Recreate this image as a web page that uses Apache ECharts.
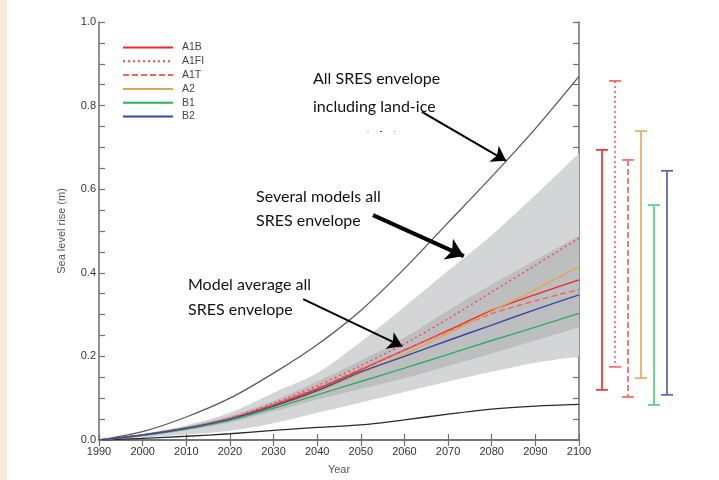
<!DOCTYPE html>
<html>
<head>
<meta charset="utf-8">
<title>Sea level rise 1990-2100</title>
<script src="https://cdn.jsdelivr.net/npm/echarts@6/dist/echarts.min.js"></script>
<style>
html, body { margin: 0; padding: 0; background: #fff; }
#chart { width: 719px; height: 480px; }
</style>
</head>
<body>
<div id="chart"></div>
<script>
// values, one per decade
var years = [1990, 2000, 2010, 2020, 2030, 2040, 2050, 2060, 2070, 2080, 2090, 2100];

// all SRES envelope including land-ice uncertainty
var landIceHigh = [0, 0.02, 0.055, 0.10, 0.16, 0.228, 0.31, 0.41, 0.52, 0.63, 0.745, 0.87];
var landIceLow = [0, 0.004, 0.009, 0.015, 0.023, 0.03, 0.036, 0.048, 0.062, 0.074, 0.081, 0.085];

// several models all SRES envelope
var modelsLow = [0, 0.006, 0.013, 0.022, 0.04, 0.065, 0.09, 0.115, 0.14, 0.163, 0.185, 0.2];
var modelsHigh = [0, 0.015, 0.035, 0.065, 0.113, 0.16, 0.235, 0.319, 0.405, 0.49, 0.586, 0.686];

// model average all SRES envelope
var averageLow = [0, 0.009, 0.023, 0.042, 0.068, 0.097, 0.122, 0.148, 0.177, 0.207, 0.238, 0.27];
var averageHigh = [0, 0.014, 0.032, 0.058, 0.094, 0.14, 0.19, 0.245, 0.31, 0.372, 0.43, 0.488];

// scenarios
var scenarioNames = ['A1B', 'A1FI', 'A1T', 'A2', 'B1', 'B2'];
var a1b = [0, 0.012, 0.028, 0.051, 0.084, 0.122, 0.168, 0.215, 0.262, 0.31, 0.348, 0.383];
var a1fi = [0, 0.012, 0.029, 0.053, 0.088, 0.13, 0.178, 0.23, 0.29, 0.354, 0.418, 0.483];
var a1t = [0, 0.012, 0.029, 0.052, 0.086, 0.125, 0.17, 0.215, 0.26, 0.302, 0.333, 0.36];
var a2 = [0, 0.011, 0.026, 0.048, 0.079, 0.116, 0.16, 0.205, 0.255, 0.308, 0.36, 0.415];
var b1 = [0, 0.011, 0.026, 0.047, 0.076, 0.108, 0.14, 0.172, 0.205, 0.238, 0.27, 0.303];
var b2 = [0, 0.012, 0.028, 0.05, 0.081, 0.118, 0.163, 0.2, 0.238, 0.275, 0.312, 0.347];

// 2100 ranges shown as bars at the right
var rangeLow = [0.12, 0.175, 0.103, 0.148, 0.084, 0.108];
var rangeHigh = [0.694, 0.859, 0.67, 0.739, 0.562, 0.644];

var scenarioColors = ['#ec2b2b', '#f04a4a', '#f26262', '#e2a650', '#2fad62', '#3a48a0'];
var rangeColors = ['#f03c3c', '#f36e6e', '#f36e6e', '#e3b264', '#5fcf90', '#5d68b2'];
var scenarioDash = ['solid', [2, 3], [6, 3], 'solid', 'solid', 'solid'];

var bands = [
    {low: modelsLow, high: modelsHigh, color: '#d4d5d7'},
    {low: averageLow, high: averageHigh, color: '#bdbec0'}
];

function pairs(values) {
    var out = [];
    for (var i = 0; i < years.length; i++) {
        out.push([years[i], values[i]]);
    }
    return out;
}

// catmull-rom through the points, written as cubic bezier commands
function curveTo(pts) {
    var d = '';
    for (var i = 0; i < pts.length - 1; i++) {
        var p0 = pts[i - 1] || pts[i];
        var p1 = pts[i];
        var p2 = pts[i + 1];
        var p3 = pts[i + 2] || p2;
        var c1x = p1[0] + (p2[0] - p0[0]) / 6;
        var c1y = p1[1] + (p2[1] - p0[1]) / 6;
        var c2x = p2[0] - (p3[0] - p1[0]) / 6;
        var c2y = p2[1] - (p3[1] - p1[1]) / 6;
        d += ' C' + c1x + ' ' + c1y + ' ' + c2x + ' ' + c2y + ' ' + p2[0] + ' ' + p2[1];
    }
    return d;
}

function renderBand(params, api) {
    var band = bands[params.dataIndex];
    var top = [];
    var bottom = [];
    for (var i = 0; i < years.length; i++) {
        top.push(api.coord([years[i], band.high[i]]));
    }
    for (var j = years.length - 1; j >= 0; j--) {
        bottom.push(api.coord([years[j], band.low[j]]));
    }
    var d = 'M' + top[0][0] + ' ' + top[0][1] + curveTo(top) +
        ' L' + bottom[0][0] + ' ' + bottom[0][1] + curveTo(bottom) + ' Z';
    return {
        type: 'path',
        shape: {pathData: d},
        style: {fill: band.color}
    };
}

function renderRange(params, api) {
    var idx = api.value(0);
    var top = api.coord([idx, api.value(2)]);
    var bottom = api.coord([idx, api.value(1)]);
    var color = rangeColors[idx];
    var dash = scenarioDash[idx] === 'solid' ? null : scenarioDash[idx];
    return {
        type: 'group',
        children: [{
            type: 'line',
            shape: {x1: top[0], y1: top[1], x2: bottom[0], y2: bottom[1]},
            style: {stroke: color, lineWidth: 1.8, lineDash: dash}
        }, {
            type: 'line',
            shape: {x1: top[0] - 6, y1: top[1], x2: top[0] + 6, y2: top[1]},
            style: {stroke: color, lineWidth: 1.8}
        }, {
            type: 'line',
            shape: {x1: bottom[0] - 6, y1: bottom[1], x2: bottom[0] + 6, y2: bottom[1]},
            style: {stroke: color, lineWidth: 1.8}
        }]
    };
}

var axisColor = '#6f6f6f';
var labelFont = 'Liberation Sans';
var noteFont = 'Lato';

var series = [];
series.push({
    type: 'custom',
    data: [[0], [1]],
    renderItem: renderBand,
    silent: true,
    z: 1
});

series.push({
    name: 'land-ice high',
    type: 'line',
    data: pairs(landIceHigh),
    symbol: 'none',
    smooth: 0.3,
    z: 3,
    lineStyle: {color: '#5a5a5a', width: 1.3},
    markLine: {
        silent: true,
        symbol: ['none', 'arrow'],
        symbolSize: 14,
        label: {show: false},
        lineStyle: {color: '#000', width: 2, type: 'solid'},
        data: [
            [{coord: [2064.0, 0.785]}, {coord: [2083.3, 0.668]}],
            [{coord: [2052.8, 0.538], lineStyle: {width: 4}, symbolSize: 17},
                {coord: [2073.6, 0.44], symbolSize: 17}],
            [{coord: [2036.8, 0.337]}, {coord: [2059.5, 0.224]}]
        ]
    }
});
series.push({
    name: 'land-ice low',
    type: 'line',
    data: pairs(landIceLow),
    symbol: 'none',
    smooth: 0.3,
    z: 3,
    lineStyle: {color: '#2a2a2a', width: 1.3}
});

var scenarioData = [a1b, a1fi, a1t, a2, b1, b2];
for (var s = 0; s < scenarioNames.length; s++) {
    series.push({
        name: scenarioNames[s],
        type: 'line',
        data: pairs(scenarioData[s]),
        symbol: 'none',
        smooth: 0.3,
        z: 4,
        color: scenarioColors[s],
        lineStyle: {color: scenarioColors[s], width: 1.4, type: scenarioDash[s]}
    });
}

var rangeData = [];
for (var r = 0; r < scenarioNames.length; r++) {
    rangeData.push([r, rangeLow[r], rangeHigh[r]]);
}
series.push({
    type: 'custom',
    xAxisIndex: 2,
    yAxisIndex: 2,
    data: rangeData,
    renderItem: renderRange,
    silent: true
});

var tickStyle = {show: true, inside: true, length: 6, lineStyle: {color: axisColor, width: 1.2}};
var minorStyle = {show: true, splitNumber: 4, length: 6, lineStyle: {color: axisColor, width: 1.2}};

var option = {
    animation: false,
    backgroundColor: '#fff',
    grid: [
        {left: 99, right: 140, top: 22, bottom: 40, outerBoundsMode: 'none'},
        {left: 595.5, width: 78, top: 22, bottom: 40, outerBoundsMode: 'none'}
    ],
    legend: {
        data: scenarioNames,
        orient: 'vertical',
        left: 122,
        top: 42,
        padding: 0,
        itemWidth: 50,
        itemHeight: 12,
        itemGap: 2.8,
        selectedMode: false,
        itemStyle: {opacity: 0},
        textStyle: {fontFamily: labelFont, fontSize: 10.5, color: '#444', padding: [0, 0, 0, 4]}
    },
    xAxis: [{
        type: 'value',
        gridIndex: 0,
        min: 1990,
        max: 2100,
        interval: 10,
        name: 'Year',
        nameLocation: 'middle',
        nameGap: 24,
        nameTextStyle: {fontFamily: labelFont, fontSize: 11, color: '#555'},
        axisLine: {show: true, lineStyle: {color: axisColor, width: 1.5}},
        axisTick: tickStyle,
        axisLabel: {
            fontFamily: labelFont, fontSize: 11, color: '#333', margin: 6,
            formatter: function(v) { return String(v); }
        },
        splitLine: {show: false}
    }, {
        type: 'value',
        gridIndex: 0,
        position: 'top',
        min: 1990,
        max: 2100,
        interval: 10,
        axisLine: {show: true, lineStyle: {color: axisColor, width: 1.5}},
        axisTick: tickStyle,
        axisLabel: {show: false},
        splitLine: {show: false}
    }, {
        type: 'category',
        gridIndex: 1,
        data: scenarioNames,
        show: false
    }],
    yAxis: [{
        type: 'value',
        gridIndex: 0,
        min: 0,
        max: 1,
        interval: 0.2,
        name: 'Sea level rise (m)',
        nameLocation: 'middle',
        nameGap: 32,
        nameTextStyle: {fontFamily: labelFont, fontSize: 11, color: '#555'},
        axisLine: {show: true, lineStyle: {color: axisColor, width: 1.5}},
        axisTick: tickStyle,
        minorTick: minorStyle,
        axisLabel: {
            fontFamily: labelFont, fontSize: 11, color: '#333', margin: 3,
            formatter: function(v) { return v.toFixed(1); }
        },
        splitLine: {show: false}
    }, {
        type: 'value',
        gridIndex: 0,
        position: 'right',
        min: 0,
        max: 1,
        interval: 0.2,
        axisLine: {show: true, lineStyle: {color: axisColor, width: 1.5}},
        axisTick: tickStyle,
        minorTick: minorStyle,
        axisLabel: {show: false},
        splitLine: {show: false}
    }, {
        type: 'value',
        gridIndex: 1,
        min: 0,
        max: 1,
        show: false
    }],
    graphic: [
        {type: 'rect', left: 0, top: 0, shape: {width: 7, height: 480}, style: {fill: '#fbe8da'}},
        {type: 'text', x: 313, y: 79, style: {text: 'All SRES envelope', font: '16px ' + noteFont, fill: '#111', textVerticalAlign: 'middle'}},
        {type: 'text', x: 313, y: 107, style: {text: 'including land-ice', font: '16px ' + noteFont, fill: '#111', textVerticalAlign: 'middle'}},
        {type: 'text', x: 326, y: 137, z: 90, style: {text: 'uncertainty', font: '16px ' + noteFont, fill: '#111', textVerticalAlign: 'middle'}},
        {type: 'rect', x: 305, y: 132, z: 95, shape: {width: 110, height: 18}, style: {fill: '#fff'}},
        {type: 'text', x: 256, y: 197, style: {text: 'Several models all', font: '16px ' + noteFont, fill: '#111', textVerticalAlign: 'middle'}},
        {type: 'text', x: 256, y: 221, style: {text: 'SRES envelope', font: '16px ' + noteFont, fill: '#111', textVerticalAlign: 'middle'}},
        {type: 'text', x: 188, y: 285, style: {text: 'Model average all', font: '16px ' + noteFont, fill: '#111', textVerticalAlign: 'middle'}},
        {type: 'text', x: 188, y: 310, style: {text: 'SRES envelope', font: '16px ' + noteFont, fill: '#111', textVerticalAlign: 'middle'}}
    ],
    series: series
};

var myChart = echarts.init(document.getElementById('chart'));
myChart.setOption(option);
</script>
</body>
</html>
